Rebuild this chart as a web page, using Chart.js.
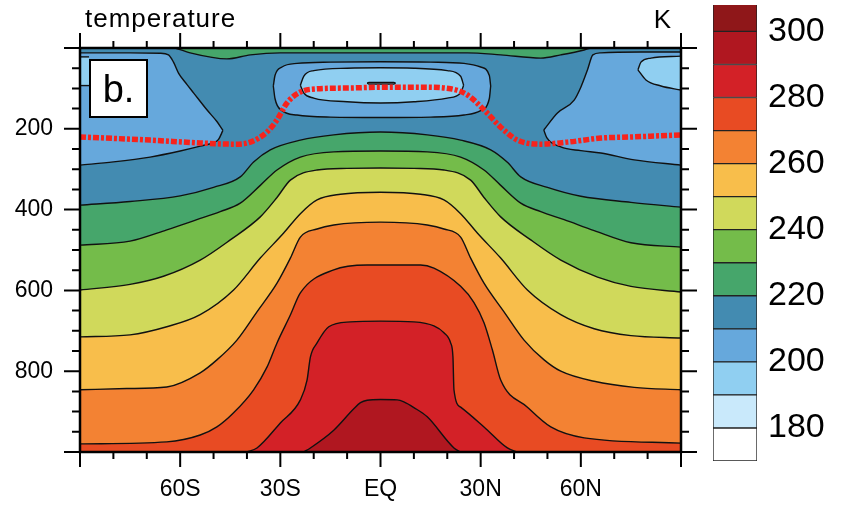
<!DOCTYPE html>
<html>
<head>
<meta charset="utf-8">
<script src="https://cdn.jsdelivr.net/npm/chart.js@4.4.1/dist/chart.umd.min.js"></script>
<style>
  html, body { margin: 0; padding: 0; background: #fff; }
  #wrap { position: relative; width: 846px; height: 505px; }
  #main { position: absolute; left: 0; top: 0; }
  #bar { position: absolute; left: 700px; top: 0; }
</style>
</head>
<body>
<div id="wrap">
  <canvas id="main" width="846" height="505"></canvas>
  <canvas id="bar" width="146" height="505"></canvas>
</div>
<script>
// colour levels (K) and colours of the boxes between them
const cbEdges = [170, 180, 190, 200, 210, 220, 230, 240, 250, 260, 270, 280, 290, 300, 310];
const cbColors = ['#ffffff', '#c9e9fb', '#90cff1', '#66a8dc', '#438bb1', '#46a66b', '#74bc4a',
                  '#d0d95b', '#f8be4b', '#f38233', '#e84b23', '#d32127', '#b01720', '#8f1719'];
const cbTicks = [180, 200, 220, 240, 260, 280, 300];

// axis ticks
const latTicks = [-60, -30, 0, 30, 60];
const latTickLabels = ['60S', '30S', 'EQ', '30N', '60N'];
const pTicks = [200, 400, 600, 800];

// isotherms of the lower atmosphere (lat in degrees, pressure in hPa)
const lat220 = [-90, -75, -60, -50, -42, -38, -33, -24, -14, 0, 14, 24, 33, 38, 42, 50, 60, 75, 90];
const p220   = [389, 380, 366, 345, 319, 282, 252, 228, 215, 208, 215, 228, 252, 283, 319, 345, 367, 382, 394];

const lat230 = [-90, -75, -64, -55, -48, -42, -36, -31, -24, -14, 0, 14, 24, 31, 36, 42, 48, 55, 64, 75, 90];
const p230   = [488, 478, 450, 425, 405, 384, 340, 302, 270, 257, 255, 257, 270, 302, 340, 384, 405, 425, 452, 482, 493];

const lat240 = [-90, -75, -65, -54, -45, -36, -31, -27, -19, -10, 0, 10, 19, 27, 31, 36, 45, 54, 65, 75, 90];
const p240   = [599, 585, 565, 525, 475, 418, 370, 327, 302, 298, 297, 298, 302, 327, 370, 418, 475, 525, 567, 590, 604];

const lat250 = [-90, -75, -64, -54, -44, -36, -29, -24, -19, -12, 0, 12, 19, 24, 29, 36, 44, 54, 64, 75, 90];
const p250   = [715, 710, 690, 660, 599, 520, 458, 410, 376, 362, 357, 362, 376, 410, 458, 520, 599, 660, 695, 712, 718];

const lat260 = [-90, -76, -64, -54, -49, -43, -37, -31, -27, -24, -19, -14, 0, 14, 19, 24, 27, 31, 37, 43, 49, 54, 64, 76, 90];
const p260   = [846, 843, 839, 804, 772, 723, 653, 582, 520, 468, 448, 438, 431, 438, 448, 468, 520, 582, 653, 723, 772, 800, 825, 840, 846];

const lat270 = [-90, -64, -54, -49, -44, -38, -34, -31, -27, -24, -14, -4, 12, 16, 24, 28, 31, 33.5, 36, 44, 51, 61, 90];
const p270   = [980, 975, 958, 938, 903, 846, 790, 730, 661, 606, 549, 537, 537, 545, 590, 630, 680, 747, 822, 889, 938, 965, 978];

const lat280 = [-40, -37, -30, -24, -22, -21, -19, -15.5, -9, 0, 10, 16, 19, 21, 21.7, 22, 24, 31, 38, 41];
const p280   = [1000, 990, 928, 871, 822, 765, 730, 690, 678, 676, 678, 688, 705, 730, 765, 846, 889, 938, 990, 1000];

const lat290 = [-23, -21, -14, -8, -6, -4, 0, 5, 7, 10, 14, 22, 24];
const p290   = [1000, 990, 946, 893, 878, 872, 870, 871, 876, 890, 913, 990, 1000];

// warm strip along the top (> 220 K)
const latStrip = [-61.5, -57, -46, -39, -30, 6, 26, 36, 48, 54, 61, 63];
const pStrip   = [0, 12, 27, 17, 12, 12, 12, 17, 25, 17, 5, 0];

// cold pools (< 210 K): upper and lower edges
const latLeftTop = [-90, -75, -66, -63.5, -62, -60.5, -58, -56, -52, -49, -47.2];
const pLeftTop   = [12, 12, 13, 17, 35, 62, 90, 111, 153, 182, 204];
const latLeftBot = [-90, -80, -69, -60, -54, -50, -48.5, -47.2];
const pLeftBot   = [290, 282, 270, 255, 243, 234, 226, 204];

const latRightTop = [48.9, 53, 58, 60, 62, 63.6, 66, 78, 90];
const pRightTop   = [203, 161, 129, 97, 54, 17, 12, 10, 10];
const latRightBot = [48.9, 49.8, 54, 60, 66, 76, 90];
const pRightBot   = [203, 222, 245, 254, 260, 277, 290];

const latMid    = [-32.1, -31.6, -29.5, -25, -15, 0, 15, 25, 30, 32.6, 33];
const pMidTop   = [94, 68, 47, 38, 35, 34, 35, 38, 47, 68, 94];
const pMidBot   = [94, 125, 155, 166, 171, 172, 171, 166, 155, 125, 94];

// < 200 K
const latInner  = [-24, -23, -20, -10, 0, 10, 20, 24, 24.9];
const pInnerTop = [92, 70, 56, 50, 49, 50, 56, 70, 92];
const pInnerBot = [92, 111, 124, 133, 136, 133, 124, 111, 92];

const latCornerL  = [-90, -87.3];
const pCornerLTop = [22, 22];
const pCornerLBot = [93, 93];

const latCornerRTop = [77.1, 78, 81, 90];
const pCornerRTop   = [54, 35, 25, 20];
const latCornerRBot = [77.1, 79.5, 84, 90];
const pCornerRBot   = [54, 79, 94, 104];

// < 190 K
const latTiny  = [-4, -3.5, 4, 4.5];
const pTinyTop = [87, 85, 85, 87];
const pTinyBot = [87, 89, 89, 87];

// tropopause
const latTrop = [-90, -69, -54, -44, -39, -34, -31, -28, -24, -19, -9, 0, 12, 21, 26, 31, 36, 41, 48, 56, 66, 76, 90];
const pTrop   = [220, 228, 235, 238, 233, 208, 178, 136, 109, 101, 99, 97, 97, 101, 116, 153, 196, 228, 238, 233, 223, 220, 215];

Chart.defaults.font.family = '"Liberation Sans", Arial, Helvetica, sans-serif';
Chart.defaults.color = '#000';

function band(t) { return cbColors[cbEdges.indexOf(t)]; }
function pts(lat, p) { return lat.map((x, i) => ({ x: x, y: p[i] })); }

const paint = [];
function line(lat, p, extra) {
  paint.push(Object.assign({
    data: pts(lat, p), showLine: true, pointRadius: 0, fill: false,
    borderColor: '#111', borderWidth: 1.4, cubicInterpolationMode: 'monotone'
  }, extra));
}
function pool(latA, pA, latB, pB, t) {
  line(latA, pA);
  line(latB, pB, { fill: '-1', backgroundColor: band(t) });
}

line([-90, 90], [0, 0], { fill: { value: 1000 }, backgroundColor: band(210), borderWidth: 0 });
[[220, lat220, p220], [230, lat230, p230], [240, lat240, p240], [250, lat250, p250],
 [260, lat260, p260], [270, lat270, p270], [280, lat280, p280], [290, lat290, p290]]
  .forEach(([t, la, pp]) => line(la, pp, { fill: { value: 1000 }, backgroundColor: band(t) }));
line(latStrip, pStrip, { fill: { value: 0 }, backgroundColor: band(220) });
pool(latLeftTop, pLeftTop, latLeftBot, pLeftBot, 200);
pool(latRightTop, pRightTop, latRightBot, pRightBot, 200);
pool(latMid, pMidTop, latMid, pMidBot, 200);
pool(latInner, pInnerTop, latInner, pInnerBot, 190);
pool(latTiny, pTinyTop, latTiny, pTinyBot, 180);
pool(latCornerL, pCornerLTop, latCornerL, pCornerLBot, 190);
pool(latCornerRTop, pCornerRTop, latCornerRBot, pCornerRBot, 190);
line(latTrop, pTrop, { borderColor: '#f7231c', borderWidth: 5.5, borderDash: [6, 2, 3, 2] });

paint.forEach((d, i) => { d.order = paint.length - i; });

const frame = {
  id: 'frame',
  afterDraw(chart) {
    const { ctx, chartArea: a, scales: { x, y } } = chart;
    ctx.save();
    ctx.strokeStyle = '#000';
    ctx.beginPath();
    for (let v = -90; v <= 90; v += 10) {
      const px = x.getPixelForValue(v);
      const len = v % 30 === 0 ? 15 : 7;
      ctx.moveTo(px, a.top); ctx.lineTo(px, a.top - len);
      ctx.moveTo(px, a.bottom); ctx.lineTo(px, a.bottom + len);
    }
    for (let v = 0; v <= 1000; v += 50) {
      const py = y.getPixelForValue(v);
      const len = v % 200 === 0 ? 16 : 8;
      ctx.moveTo(a.left, py); ctx.lineTo(a.left - len, py);
      ctx.moveTo(a.right, py); ctx.lineTo(a.right + len, py);
    }
    ctx.lineWidth = 2;
    ctx.stroke();
    ctx.lineWidth = 2.5;
    ctx.strokeRect(a.left, a.top, a.right - a.left, a.bottom - a.top);

    ctx.fillStyle = '#000';
    ctx.font = '26px "Liberation Sans", Arial, sans-serif';
    ctx.textBaseline = 'alphabetic';
    ctx.textAlign = 'left';
    ctx.letterSpacing = '1px';
    ctx.fillText('temperature', 85, 27);
    ctx.letterSpacing = '0px';
    ctx.textAlign = 'right';
    ctx.fillText('K', 671, 28);

    ctx.fillStyle = '#fff';
    ctx.fillRect(90, 60, 57, 57);
    ctx.lineWidth = 2;
    ctx.strokeRect(90, 60, 57, 57);
    ctx.fillStyle = '#000';
    ctx.font = '38px "Liberation Sans", Arial, sans-serif';
    ctx.textAlign = 'center';
    ctx.fillText('b.', 118.5, 102);
    ctx.restore();
  }
};

new Chart(document.getElementById('main'), {
  type: 'scatter',
  data: { datasets: paint },
  options: {
    responsive: false,
    animation: false,
    events: [],
    layout: { padding: { left: 0, top: 48, right: 165, bottom: 0 } },
    plugins: {
      legend: { display: false },
      tooltip: { enabled: false },
      filler: { drawTime: 'beforeDatasetsDraw' }
    },
    scales: {
      x: {
        type: 'linear', min: -90, max: 90,
        grid: { display: false, drawTicks: false },
        border: { display: false },
        ticks: {
          stepSize: 30, autoSkip: false, maxRotation: 0, padding: 24,
          font: { size: 23 },
          callback: v => { const i = latTicks.indexOf(v); return i >= 0 ? latTickLabels[i] : ''; }
        },
        afterFit: s => { s.height = 53; s.paddingLeft = 0; s.paddingRight = 0; }
      },
      y: {
        type: 'linear', reverse: true, min: 0, max: 1000,
        grid: { display: false, drawTicks: false },
        border: { display: false },
        ticks: {
          stepSize: 200, padding: 27,
          font: { size: 23 },
          callback: v => pTicks.includes(v) ? String(v) : ''
        },
        afterFit: s => { s.width = 80; s.paddingTop = 0; s.paddingBottom = 0; }
      }
    }
  },
  plugins: [frame]
});

new Chart(document.getElementById('bar'), {
  type: 'bar',
  data: {
    labels: [''],
    datasets: cbColors.map((c, i) => ({
      data: [[cbEdges[i], cbEdges[i + 1]]],
      backgroundColor: c, borderColor: '#222', borderWidth: 1, borderSkipped: false,
      grouped: false, barPercentage: 1, categoryPercentage: 1
    }))
  },
  options: {
    responsive: false,
    animation: false,
    events: [],
    layout: { padding: { left: 13, top: 5, bottom: 44, right: 0 } },
    plugins: { legend: { display: false }, tooltip: { enabled: false } },
    scales: {
      x: { display: false },
      y: {
        position: 'right', min: 170, max: 308,
        grid: { display: false, drawTicks: false },
        border: { display: false },
        afterBuildTicks: s => { s.ticks = cbTicks.map(v => ({ value: v })); },
        ticks: { padding: 11, font: { size: 34 } },
        afterFit: s => { s.width = 89; s.paddingTop = 0; s.paddingBottom = 0; }
      }
    }
  }
});
</script>
</body>
</html>
